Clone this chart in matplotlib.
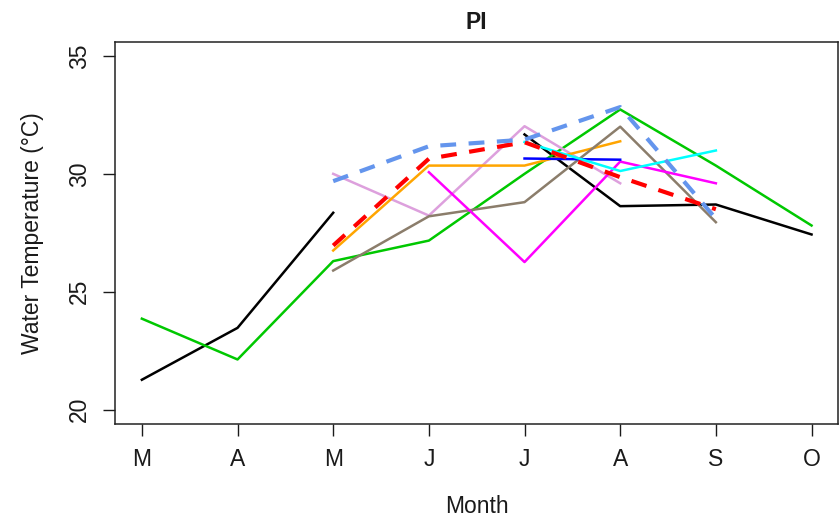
import matplotlib
matplotlib.use("Agg")
import matplotlib.pyplot as plt
import numpy as np

plt.rcParams["font.family"] = ["Liberation Sans", "DejaVu Sans"]

months = ["M", "A", "M", "J", "J", "A", "S", "O"]
nan = np.nan

# one series per station, NaN where there is no reading
black   = [21.27, 23.47, 28.35, nan, 31.67, 28.63, 28.70, 27.43]
green   = [23.86, 22.13, 26.30, 27.17, 30.0, 32.73, 30.35, 27.81]
plum    = [nan, nan, 30.0, 28.23, 32.02, 29.6, nan, nan]
orange  = [nan, nan, 26.75, 30.35, 30.35, 31.38, nan, nan]
brown   = [nan, nan, 25.9, 28.2, 28.8, 32.0, 27.95, nan]
magenta = [nan, nan, nan, 30.07, 26.26, 30.52, 29.6, nan]
blue    = [nan, nan, nan, nan, 30.65, 30.6, nan, nan]
cyan    = [nan, nan, nan, nan, 31.35, 30.12, 30.99, nan]
red     = [nan, nan, 26.96, 30.64, 31.34, 29.86, 28.5, nan]
cflower = [nan, nan, 29.69, 31.17, 31.45, 32.83, 28.1, nan]

solid = [
    (black, "black"),
    (green, "#00C800"),
    (plum, "#DDA0DD"),
    (orange, "#FFA500"),
    (brown, "#8B7D6B"),
    (magenta, "#FF00FF"),
    (blue, "#0000FF"),
    (cyan, "#00FFFF"),
]
dashed = [
    (red, "#FF0000"),
    (cflower, "#6495ED"),
]

FS = 16.5
TXT = "#1a1a1a"

fig = plt.figure(figsize=(8.4, 5.22), dpi=100)
ax = fig.add_axes([0.137, 0.188, 0.861, 0.732])

x = np.arange(1, len(months) + 1)
for vals, col in solid:
    ax.plot(x, vals, color=col, lw=1.8)
for vals, col in dashed:
    ax.plot(x, vals, color=col, lw=3.0, dashes=(3.8, 3.0))

# R-style 4% padding around the data range
ax.set_xlim(1 - 0.28, 8 + 0.28)
ax.set_ylim(20 - 0.6, 35 + 0.6)
ax.set_xticks(x)
ax.set_xticklabels(months, fontsize=FS)
ax.set_yticks([20, 25, 30, 35])
ax.set_yticklabels(["20", "25", "30", "35"], fontsize=FS, rotation=90, va="center")
ax.tick_params(direction="out", length=8.5, width=1, pad=9, colors=TXT)
for s in ax.spines.values():
    s.set_linewidth(1.1)
    s.set_color("#222222")

ax.set_title("PI", fontsize=FS, fontweight="bold", pad=9, color=TXT)
ax.set_xlabel("Month", fontsize=FS, labelpad=17, color=TXT)
ax.set_ylabel("Water Temperature (\u00b0C)", fontsize=FS, labelpad=17, color=TXT)

fig.savefig("out.png", dpi=100)
